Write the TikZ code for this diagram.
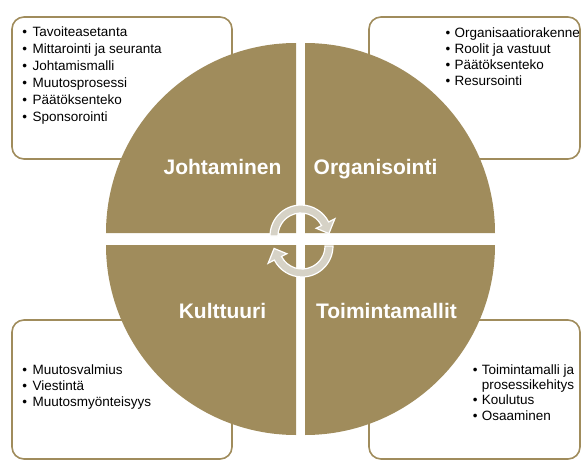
\documentclass[tikz,border=0pt]{standalone}
\usepackage{fontspec}
\setmainfont{Liberation Sans}
\definecolor{gold}{HTML}{A08C5C}
\definecolor{arrowfill}{HTML}{D6D2C6}
\tikzset{
  infobox/.style={draw=gold, line width=1.6pt, rounded corners=12pt, fill=white},
  quad/.style={fill=gold},
  title/.style={text=white, font=\fontsize{21}{25}\selectfont\bfseries, inner sep=0pt, anchor=base},
  list/.style={text=black, inner sep=0pt, anchor=base west},
  cyc/.style={fill=arrowfill, draw=white, line width=1.2pt, line join=miter}
}
\newcommand\bitem[2]{\makebox[#1][l]{•}#2}
\begin{document}
\begin{tikzpicture}[x=1pt,y=-1pt]
\useasboundingbox (0,0) rectangle (582,461);
% boxes
\draw[infobox] (12,17) rectangle (232,159);
\draw[infobox] (369,17) rectangle (580,159);
\draw[infobox] (12,320) rectangle (232,459);
\draw[infobox] (369,320) rectangle (580,459);
% quadrants
\fill[quad] (296,233) -- (106,233) arc[start angle=180, end angle=270, radius=190] -- cycle;
\fill[quad] (305,233) -- (305,43) arc[start angle=270, end angle=360, radius=190] -- cycle;
\fill[quad] (305,245) -- (495,245) arc[start angle=0, end angle=90, radius=190] -- cycle;
\fill[quad] (296,245) -- (296,435) arc[start angle=90, end angle=180, radius=190] -- cycle;
% cycle arrows
\begin{scope}[shift={(301,236)}]
  \filldraw[cyc] (180:31) arc[start angle=180, end angle=333, radius=31]
    -- (333:38) -- (355:28) -- (333:17) -- (333:23)
    arc[start angle=333, end angle=180, radius=23] -- cycle;
\end{scope}
\begin{scope}[shift={(302,246)}, rotate=180]
  \filldraw[cyc] (180:31) arc[start angle=180, end angle=333, radius=31]
    -- (333:38) -- (355:28) -- (333:17) -- (333:23)
    arc[start angle=333, end angle=180, radius=23] -- cycle;
\end{scope}
% titles
\node[title] (johtaminen) at (222.5,174) {Johtaminen};
\node[title] (organisointi) at (375.5,174) {Organisointi};
\node[title] (kulttuuri) at (222.5,318) {Kulttuuri};
\node[title] (toimintamallit) at (386.5,318) {Toimintamallit};
% lists
\node[list, font=\fontsize{13.5}{17}\selectfont] (tllist) at (22.3,36.7) {\begin{tabular}[t]{@{}l@{}}
\bitem{10.2pt}{Tavoiteasetanta}\\
\bitem{10.2pt}{Mittarointi ja seuranta}\\
\bitem{10.2pt}{Johtamismalli}\\
\bitem{10.2pt}{Muutosprosessi}\\
\bitem{10.2pt}{Päätöksenteko}\\
\bitem{10.2pt}{Sponsorointi}
\end{tabular}};
\node[list, font=\fontsize{13.5}{16.2}\selectfont] (trlist) at (445.3,37.2) {\begin{tabular}[t]{@{}l@{}}
\bitem{9.2pt}{Organisaatiorakenne}\\
\bitem{9.2pt}{Roolit ja vastuut}\\
\bitem{9.2pt}{Päätöksenteko}\\
\bitem{9.2pt}{Resursointi}
\end{tabular}};
\node[list, font=\fontsize{13.5}{16}\selectfont] (bllist) at (22.3,374) {\begin{tabular}[t]{@{}l@{}}
\bitem{10.2pt}{Muutosvalmius}\\
\bitem{10.2pt}{Viestintä}\\
\bitem{10.2pt}{Muutosmyönteisyys}
\end{tabular}};
\node[list, font=\fontsize{13.5}{15.4}\selectfont] (brlist) at (472.6,374) {\begin{tabular}[t]{@{}l@{}}
\bitem{9pt}{Toimintamalli ja}\\
\hspace*{9pt}prosessikehitys\\
\bitem{9pt}{Koulutus}\\
\bitem{9pt}{Osaaminen}
\end{tabular}};
\end{tikzpicture}
\end{document}
